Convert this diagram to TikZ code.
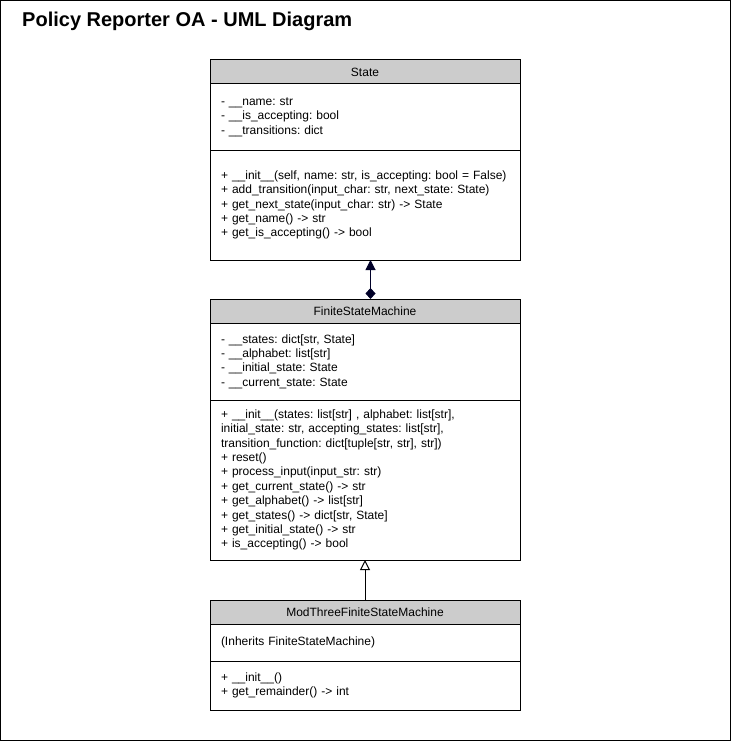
\documentclass[tikz,border=0pt]{standalone}
\usepackage{fontspec}
\setmainfont{Liberation Sans}
\usepackage{tikz}
\usetikzlibrary{positioning,arrows.meta}
\frenchspacing
\definecolor{header}{RGB}{204, 204, 204}
\definecolor{link}{RGB}{0, 0, 40}
\tikzstyle{classhead} = [rectangle, draw=black, line width=1pt, fill=header, minimum width=310pt, minimum height=24pt, outer sep=0pt, font=\fontsize{12}{14.4}\selectfont]
\tikzstyle{classpart} = [rectangle, draw=black, line width=1pt, text width=288pt, inner xsep=11pt, align=left, outer sep=0pt, font=\fontsize{12}{14.4}\selectfont\frenchspacing]
\tikzstyle{compose} = [draw=link, line width=1pt, {Diamond[width=10pt,length=11pt]}-{Triangle[width=10pt,length=10pt]}]
\tikzstyle{inherit} = [draw=black, line width=1pt, -{Triangle[open,width=10pt,length=10pt]}]

\begin{document}
\begin{tikzpicture}[x=1pt, y=-1pt]
\useasboundingbox (0,0) rectangle (732,741);
\draw[line width=1pt] (0.5,0.5) rectangle (730.5,740.5);

% title ==================================
\node[anchor=base west, inner sep=0pt, font=\bfseries\fontsize{20}{24}\selectfont] (title) at (22,27) {Policy Reporter OA - UML Diagram};

% classes ================================

% State
\node[classhead] (state) at (365,72) {State};
\node[classpart, minimum height=66pt, below=0pt of state] (stateattr) {- \_\_name: str\\- \_\_is\_accepting: bool\\- \_\_transitions: dict};
\node[classpart, minimum height=110pt, below=0pt of stateattr] (statemeth) {+ \_\_init\_\_(self, name: str, is\_accepting: bool = False)\\+ add\_transition(input\_char: str, next\_state: State)\\+ get\_next\_state(input\_char: str) -> State\\+ get\_name() -> str\\+ get\_is\_accepting() -> bool};

% FiniteStateMachine
\node[classhead] (fsm) at (365,311) {FiniteStateMachine};
\node[classpart, minimum height=77pt, below=0pt of fsm] (fsmattr) {- \_\_states: dict[str, State]\\- \_\_alphabet: list[str]\\- \_\_initial\_state: State\\- \_\_current\_state: State};
\node[classpart, minimum height=160pt, below=0pt of fsmattr] (fsmmeth) {+ \_\_init\_\_(states: list[str] , alphabet: list[str],\\initial\_state: str, accepting\_states: list[str],\\transition\_function: dict[tuple[str, str], str])\\+ reset()\\+ process\_input(input\_str: str)\\+ get\_current\_state() -> str\\+ get\_alphabet() -> list[str]\\+ get\_states() -> dict[str, State]\\+ get\_initial\_state() -> str\\+ is\_accepting() -> bool};

% ModThreeFiniteStateMachine
\node[classhead] (mod) at (365,612) {ModThreeFiniteStateMachine};
\node[classpart, minimum height=37pt, below=0pt of mod] (modattr) {(Inherits FiniteStateMachine)};
\node[classpart, minimum height=49pt, below=0pt of modattr] (modmeth) {+ \_\_init\_\_()\\+ get\_remainder() -> int};

%edges
\path[compose] ([xshift=5.5pt]fsm.north) -- ([xshift=5.5pt]statemeth.south);
\path[inherit] (mod.north) -- (fsmmeth.south);

\end{tikzpicture}
\end{document}
